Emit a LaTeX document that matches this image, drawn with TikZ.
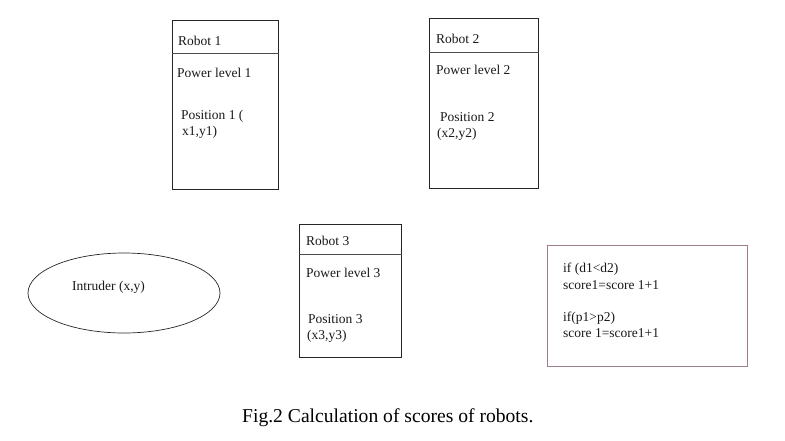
\documentclass[tikz,border=0pt]{standalone}
\usepackage{fontspec}
\setmainfont{Liberation Serif}
\definecolor{scoreline}{RGB}{160,124,142}
\tikzset{
    robotbox/.style={draw=black!85, line width=0.9pt, anchor=north west, inner sep=0pt},
    divider/.style={draw=black!70, line width=0.7pt},
    txt/.style={anchor=base west, inner sep=0pt, text=black!90, font=\fontsize{13.5}{16}\selectfont},
}
\begin{document}
\begin{tikzpicture}[x=1pt, y=-1pt]
        \useasboundingbox (0,0) rectangle (785,440);
        % ROBOT BOXES
        \foreach \n/\x/\y/\w/\h/\d in {1/172/20/106/169/33, 2/429/18/109/170/34, 3/299/224/102/133/30} {
            \node[robotbox, minimum width=\w pt, minimum height=\h pt] (r\n) at (\x,\y) {};
            \draw[divider] ([yshift=-\d pt]r\n.north west) -- ([yshift=-\d pt]r\n.north east);
        }
        % Robot 1
        \node[txt] (r1name) at (178,45) {Robot 1};
        \node[txt] (r1pow) at (177,77) {Power level 1};
        \node[txt] (r1pos) at (181,119) {Position 1 (};
        \node[txt] (r1xy) at (182,135) {x1,y1)};
        % Robot 2
        \node[txt] (r2name) at (436,43) {Robot 2};
        \node[txt] (r2pow) at (436,74) {Power level 2};
        \node[txt] (r2pos) at (440,121) {Position 2};
        \node[txt] (r2xy) at (437,137) {(x2,y2)};
        % Robot 3
        \node[txt] (r3name) at (306,245) {Robot 3};
        \node[txt] (r3pow) at (306,277) {Power level 3};
        \node[txt] (r3pos) at (308,323) {Position 3};
        \node[txt] (r3xy) at (307,339) {(x3,y3)};
        % INTRUDER
        \draw[black!85, line width=0.7pt] (124,293) ellipse (96 and 40);
        \node[txt] (intr) at (72,290) {Intruder (x,y)};
        % SCORE RULES
        \node[draw=scoreline, line width=0.8pt, anchor=north west, inner sep=0pt,
              minimum width=200pt, minimum height=121pt] (rules) at (547,245) {};
        \node[txt] (if1) at (563,272) {if (d1<d2)};
        \node[txt] (sc1) at (563,289) {score1=score 1+1};
        \node[txt] (if2) at (563,321) {if(p1>p2)};
        \node[txt] (sc2) at (563,337) {score 1=score1+1};
        % Caption
        \node[anchor=base west, inner sep=0pt, text=black, font=\fontsize{19.6}{22}\selectfont] (cap) at (242,422) {Fig.2 Calculation of scores of robots.};
    \end{tikzpicture}
\end{document}
